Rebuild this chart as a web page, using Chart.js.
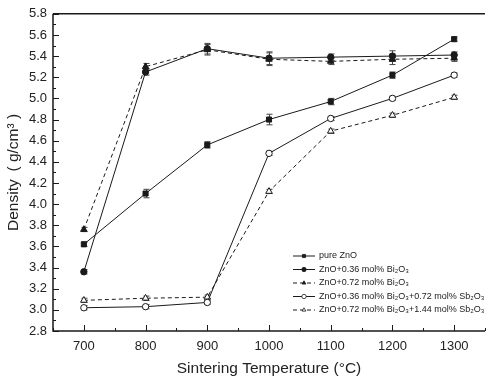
<!DOCTYPE html>
<html>
<head>
<meta charset="utf-8">
<script src="https://cdn.jsdelivr.net/npm/chart.js@4.4.1/dist/chart.umd.min.js"></script>
<style>
  html, body { margin: 0; padding: 0; background: #fff; }
  #wrap { width: 493px; height: 381px; }
</style>
</head>
<body>
<div id="wrap"><canvas id="chart" width="493" height="381"></canvas></div>
<script>
// sintering temperatures (x)
const temps = [700, 800, 900, 1000, 1100, 1200, 1300];

// legend labels
const seriesNames = [
    "pure ZnO",
    "ZnO+0.36 mol% Bi\u2082O\u2083",
    "ZnO+0.72 mol% Bi\u2082O\u2083",
    "ZnO+0.36 mol% Bi\u2082O\u2083+0.72 mol% Sb\u2082O\u2083",
    "ZnO+0.72 mol% Bi\u2082O\u2083+1.44 mol% Sb\u2082O\u2083"
];

// density values (g/cm3)
const pureZnO    = [3.62, 4.10, 4.56, 4.80, 4.97, 5.22, 5.56];
const bi036      = [3.36, 5.25, 5.47, 5.38, 5.39, 5.40, 5.41];
const bi072      = [3.76, 5.30, 5.46, 5.37, 5.35, 5.37, 5.38];
const bi036sb072 = [3.02, 3.03, 3.07, 4.48, 4.81, 5.00, 5.22];
const bi072sb144 = [3.09, 3.11, 3.12, 4.12, 4.69, 4.84, 5.01];

// error bars (+/-)
const pureErr    = [0.02, 0.04, 0.03, 0.05, 0.03, 0.03, 0.02];
const bi036Err   = [0.02, 0.03, 0.05, 0.06, 0.03, 0.05, 0.03];
const bi072Err   = [0.02, 0.03, 0.05, 0.06, 0.03, 0.05, 0.03];
const bi036sbErr = [0.02, 0.02, 0.02, 0.02, 0.02, 0.02, 0.02];
const bi072sbErr = [0.02, 0.02, 0.02, 0.02, 0.02, 0.02, 0.02];

// axis ticks
const xMin = 650, xMax = 1350, xStep = 50;
const yMin = 2.8, yMax = 5.8, yStep = 0.1;

const ink = "#1a1a1a";
const fontFam = "'Liberation Sans', Arial, sans-serif";

function make_points(values){
    let pts = [];
    for (let i = 0; i < temps.length; i++){
        pts.push({x: temps[i], y: values[i]});
    }
    return pts;
}

function make_set(idx, values, errs, shape, filled, dashed){
    return {
        label: seriesNames[idx],
        data: make_points(values),
        errors: errs,
        showLine: true,
        borderColor: ink,
        borderWidth: 1,
        borderDash: dashed ? [4, 3] : [],
        pointStyle: shape,
        pointRadius: shape === "rect" ? 3.6 : (shape === "triangle" ? 3.8 : 3.2),
        pointBorderWidth: 1,
        pointBorderColor: ink,
        pointBackgroundColor: filled ? ink : "#fff",
        fill: false,
        tension: 0
    };
}

const datasets = [
    make_set(0, pureZnO, pureErr, "rect", true, false),
    make_set(1, bi036, bi036Err, "circle", true, false),
    make_set(2, bi072, bi072Err, "triangle", true, true),
    make_set(3, bi036sb072, bi036sbErr, "circle", false, false),
    make_set(4, bi072sb144, bi072sbErr, "triangle", false, true)
];

// error bars drawn before the markers
const errorBars = {
    id: "errorBars",
    beforeDatasetsDraw(chart){
        const ctx = chart.ctx;
        const xs = chart.scales.x, ys = chart.scales.y;
        ctx.save();
        ctx.strokeStyle = "#444";
        ctx.lineWidth = 1;
        chart.data.datasets.forEach(ds => {
            ds.data.forEach((p, i) => {
                const e = ds.errors[i];
                const px = Math.round(xs.getPixelForValue(p.x)) + 0.5;
                const top = ys.getPixelForValue(p.y + e);
                const bot = ys.getPixelForValue(p.y - e);
                ctx.beginPath();
                ctx.moveTo(px, top); ctx.lineTo(px, bot);
                ctx.moveTo(px - 3, top); ctx.lineTo(px + 3, top);
                ctx.moveTo(px - 3, bot); ctx.lineTo(px + 3, bot);
                ctx.stroke();
            });
        });
        ctx.restore();
    }
};

// inward major / minor ticks and the frame
const innerTicks = {
    id: "innerTicks",
    afterDraw(chart){
        const ctx = chart.ctx;
        const a = chart.chartArea;
        const xs = chart.scales.x, ys = chart.scales.y;
        ctx.save();
        ctx.strokeStyle = ink;
        ctx.lineWidth = 1;
        ctx.beginPath();
        xs.ticks.forEach(t => {
            const px = Math.round(xs.getPixelForValue(t.value)) + 0.5;
            const len = (t.value % 100 === 0) ? 6 : 3;
            ctx.moveTo(px, a.bottom); ctx.lineTo(px, a.bottom - len);
        });
        ys.ticks.forEach(t => {
            const py = Math.round(ys.getPixelForValue(t.value)) + 0.5;
            const len = (Math.round(t.value * 10) % 2 === 0) ? 6 : 3;
            ctx.moveTo(a.left, py); ctx.lineTo(a.left + len, py);
        });
        ctx.stroke();
        ctx.lineWidth = 1.5;
        ctx.beginPath();
        ctx.moveTo(a.left, a.top); ctx.lineTo(a.right, a.top);
        ctx.moveTo(a.left, a.top); ctx.lineTo(a.left, a.bottom);
        ctx.lineTo(a.right, a.bottom);
        ctx.stroke();
        ctx.restore();
    }
};

// legend box in the lower right of the plot
const cornerLegend = {
    id: "cornerLegend",
    afterDraw(chart){
        const ctx = chart.ctx;
        const a = chart.chartArea;
        const x0 = a.left + 240;
        const y0 = a.bottom - 75;
        const rowH = 13.5;
        ctx.save();
        ctx.font = "9px " + fontFam;
        ctx.textBaseline = "middle";
        chart.data.datasets.forEach((ds, i) => {
            const y = y0 + i * rowH;
            ctx.strokeStyle = ink;
            ctx.lineWidth = 1;
            ctx.setLineDash(ds.borderDash);
            ctx.beginPath();
            ctx.moveTo(x0, y); ctx.lineTo(x0 + 22, y);
            ctx.stroke();
            ctx.setLineDash([]);
            ctx.fillStyle = ds.pointBackgroundColor;
            ctx.strokeStyle = ink;
            ctx.lineWidth = 0.8;
            Chart.helpers.drawPoint(ctx, {
                pointStyle: ds.pointStyle,
                radius: 2.2,
                borderWidth: 0.8
            }, x0 + 11, y);
            ctx.fillStyle = "#222";
            ctx.fillText(ds.label, x0 + 26, y);
        });
        ctx.restore();
    }
};

const config = {
    type: "scatter",
    data: { datasets: datasets },
    options: {
        responsive: false,
        animation: false,
        layout: { padding: { top: 7, right: 0, left: 0, bottom: 0 } },
        plugins: {
            legend: { display: false },
            tooltip: { enabled: false }
        },
        scales: {
            x: {
                type: "linear",
                min: xMin, max: xMax,
                afterFit: s => { s.height = 50; },
                grid: { display: false, drawTicks: false, tickLength: 0 },
                border: { display: false },
                ticks: {
                    stepSize: xStep,
                    autoSkip: false,
                    maxRotation: 0,
                    padding: 8,
                    color: "#222",
                    font: { family: fontFam, size: 13 },
                    callback: v => (v % 100 === 0 ? String(v) : "")
                },
                title: {
                    display: true,
                    text: "Sintering Temperature (\u00B0C)",
                    color: "#222",
                    padding: { top: 3, bottom: 3 },
                    font: { family: fontFam, size: 15.5 }
                }
            },
            y: {
                min: yMin, max: yMax,
                afterFit: s => { s.width = 53; },
                grid: { display: false, drawTicks: false, tickLength: 0 },
                border: { display: false },
                ticks: {
                    stepSize: yStep,
                    autoSkip: false,
                    padding: 6,
                    color: "#222",
                    font: { family: fontFam, size: 13 },
                    callback: v => (Math.round(v * 10) % 2 === 0 ? v.toFixed(1) : "")
                },
                title: {
                    display: true,
                    text: "Density\u2002( g/cm\u00B3 )",
                    color: "#222",
                    padding: { bottom: 2 },
                    font: { family: fontFam, size: 15.5 }
                }
            }
        }
    },
    plugins: [errorBars, innerTicks, cornerLegend]
};

new Chart(document.getElementById("chart"), config);
</script>
</body>
</html>
